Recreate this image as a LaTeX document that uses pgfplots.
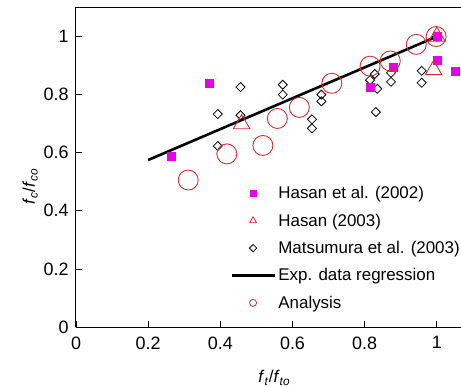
\documentclass[border=0pt]{standalone}
\usepackage{pgfplots}
\pgfplotsset{compat=1.18}
\usepackage{fontspec}
\setmainfont{Liberation Sans}
\definecolor{mag}{RGB}{230,0,230}
\definecolor{cred}{RGB}{215,45,45}
\begin{document}
\begin{tikzpicture}
\begin{axis}[
  scale only axis, width=385bp, height=319.5bp,
  xmin=0, xmax=1.067, ymin=0, ymax=1.1,
  axis x line*=box, axis y line*=left,
  axis line style={-, line width=1bp, black},
  every tick/.style={black, line width=0.8bp},
  tick align=inside, major tick length=6bp,
  xtick pos=left, ytick pos=left,
  xtick={0,0.2,0.4,0.6,0.8,1}, ytick={0,0.2,0.4,0.6,0.8,1},
  /pgf/number format/assume math mode=true,
  ticklabel style={font=\fontsize{18}{18}\selectfont},
  xticklabel style={yshift=-6bp},
  yticklabel style={xshift=-4bp},
  xlabel={\textit{f}\textsubscript{\textit{t}}/\textit{f}\textsubscript{\textit{to}}},
  ylabel={\textit{f}\textsubscript{\textit{c}}/\textit{f}\textsubscript{\textit{co}}},
  label style={font=\fontsize{17}{17}\selectfont},
  xlabel style={at={(axis description cs:0.515,-0.16)}, anchor=center},
  ylabel style={at={(axis description cs:-0.119,0.44)}, anchor=center, rotate=0},
  legend image code/.code={\draw[mark repeat=2,mark phase=2,#1] plot coordinates {(0bp,0bp)(21.5bp,0bp)(43bp,0bp)};},
  legend style={draw=none, fill=none, at={(axis cs:0.427,0.493)}, anchor=north west,
    font=\fontsize{17}{17}\selectfont, row sep=8.6bp, inner sep=0bp,
    nodes={inner sep=2.5bp}},
  legend cell align=left,
]
% Matsumura et al. (2003)
\addplot[forget plot, only marks, mark=square, mark size=3.2bp, mark options={rotate=45, line width=0.8bp, black}] coordinates {
(0.393,0.733) (0.456,0.826) (0.456,0.729) (0.393,0.623)
(0.573,0.834) (0.573,0.800) (0.654,0.715) (0.654,0.684)
(0.680,0.800) (0.680,0.777) (0.815,0.850) (0.828,0.871)
(0.835,0.820) (0.831,0.740) (0.873,0.875) (0.873,0.844)
(0.958,0.882) (0.958,0.841) (1.0,1.0)
};
% Hasan et al. (2002)
\addplot[forget plot, only marks, mark=square*, mark size=4bp, mark options={draw=mag, fill=mag}] coordinates {
(0.263,0.589) (0.369,0.840) (0.815,0.826) (0.880,0.894)
(1.0,0.917) (1.051,0.879) (1.0,1.0)
};
% Hasan (2003)
\addplot[forget plot, only marks, mark=triangle, mark size=9.5bp, mark options={cred, line width=0.9bp}] coordinates {
(0.459,0.699) (0.991,0.885) (1.0,1.0)
};
% regression
\addplot[forget plot, black, line width=2.6bp] coordinates {(0.2,0.575) (1.0,1.0)};
% Analysis
\addplot[forget plot, only marks, mark=o, mark size=10bp, mark options={cred, line width=0.9bp}] coordinates {
(0.311,0.506) (0.418,0.596) (0.518,0.625) (0.558,0.718)
(0.619,0.756) (0.709,0.839) (0.815,0.898) (0.871,0.916)
(0.943,0.973) (0.998,1.0)
};
\addlegendimage{only marks, mark=square*, mark size=3bp, mark options={draw=mag, fill=mag}}
\addlegendentry{Hasan et al. (2002)}
\addlegendimage{only marks, mark=triangle, mark size=4bp, mark options={cred, line width=0.8bp}}
\addlegendentry{Hasan (2003)}
\addlegendimage{only marks, mark=square, mark size=2.6bp, mark options={rotate=45, black, line width=0.8bp}}
\addlegendentry{Matsumura et al. (2003)}
\addlegendimage{black, line width=2.6bp}
\addlegendentry{Exp. data regression}
\addlegendimage{only marks, mark=o, mark size=3.5bp, mark options={cred, line width=0.8bp}}
\addlegendentry{Analysis}
\end{axis}
\pgfresetboundingbox
\path ([xshift=-76bp,yshift=-60bp]current axis.south west) rectangle ([yshift=7.5bp]current axis.north east);
\end{tikzpicture}
\end{document}
